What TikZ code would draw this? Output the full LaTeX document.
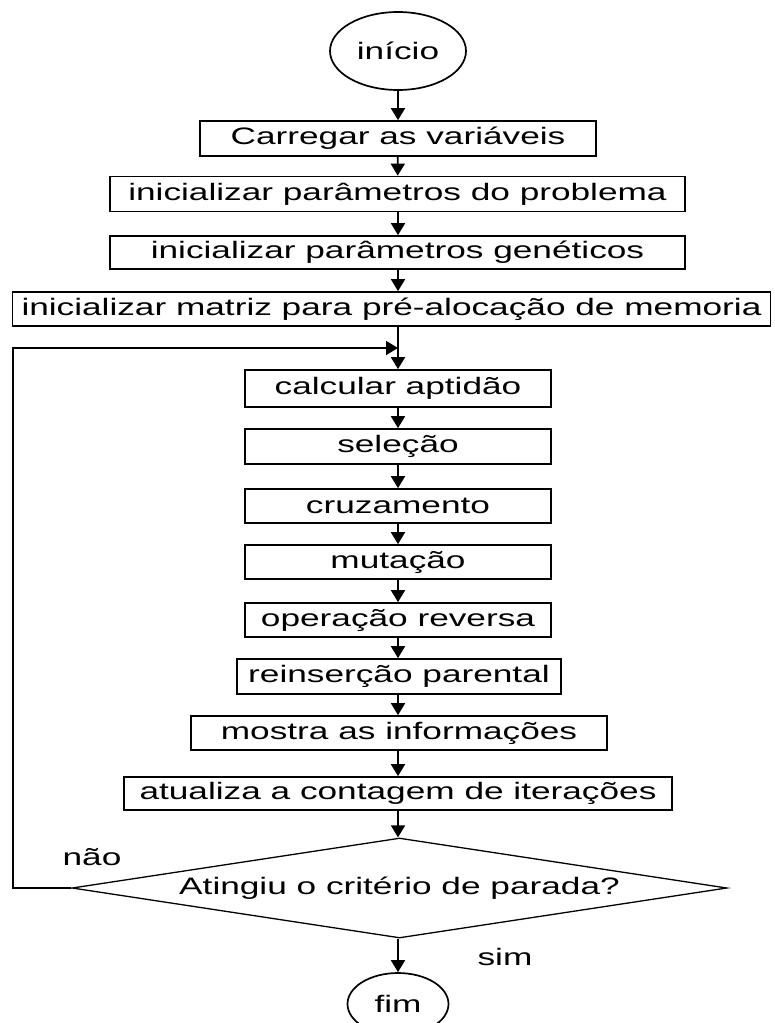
\documentclass[tikz,border=0pt]{standalone}
\usepackage{fontspec}
\setmainfont{Liberation Sans}[FakeStretch=1.48]
\usetikzlibrary{shapes.geometric,arrows.meta}
\tikzset{
  procbox/.style={draw, line width=1.7pt, inner sep=0pt, align=center, minimum height=35pt},
  term/.style={draw, ellipse, line width=1.7pt, inner sep=0pt},
  flow/.style={-{Triangle[length=12pt,width=14pt]}, line width=1.8pt}
}
\begin{document}
\begin{tikzpicture}[x=1pt,y=-1pt,font=\fontsize{23.8}{28}\selectfont]
\useasboundingbox (0,0) rectangle (774,1023);
\node[term, minimum width=136pt, minimum height=78pt] (inicio) at (398,51) {início};
\node[procbox, minimum width=396pt] (carregar) at (398,138.5) {Carregar as variáveis};
\node[procbox, minimum width=575pt] (parprob) at (397.5,194) {inicializar parâmetros do problema};
\node[procbox, minimum width=575pt, minimum height=33pt] (pargen) at (397.5,252.5) {inicializar parâmetros genéticos};
\node[procbox, minimum width=758pt, minimum height=34pt] (matriz) at (391.5,309) {inicializar matriz para pré-alocação de memoria};
\node[procbox, minimum width=306pt, minimum height=37pt] (aptidao) at (398,388.5) {calcular aptidão};
\node[procbox, minimum width=306pt] (selecao) at (398,446.5) {seleção};
\node[procbox, minimum width=306pt, minimum height=34pt] (cruza) at (398,506) {cruzamento};
\node[procbox, minimum width=306pt, minimum height=34pt] (mutacao) at (398,562) {mutação};
\node[procbox, minimum width=306pt, minimum height=34pt] (reversa) at (398,620) {operação reversa};
\node[procbox, minimum width=324pt] (reinsercao) at (399,676.5) {reinserção parental};
\node[procbox, minimum width=416pt, minimum height=34pt] (mostra) at (399,733) {mostra as informações};
\node[procbox, minimum width=548pt, minimum height=33pt] (atualiza) at (398,793.5) {atualiza a contagem de iterações};
\node[draw, diamond, line width=1.3pt, inner sep=0pt, aspect=6.55, minimum width=655pt, minimum height=100pt] (criterio) at (399.5,888) {\raisebox{-3pt}{Atingiu o critério de parada?}};
\node[term, minimum width=101pt, minimum height=62pt] (fim) at (398,1004) {fim};
\node (nao) at (92,857) {não};
\node (sim) at (505,957) {sim};
\coordinate (merge) at (398,348);
\coordinate (canto) at (13,888);
\draw[flow] (inicio) -- (carregar);
\draw[flow] (carregar) -- (parprob);
\draw[flow] (parprob.south -| carregar) -- (pargen.north -| carregar);
\draw[flow] (pargen.south -| carregar) -- (matriz.north -| carregar);
\draw[flow] (matriz.south -| merge) -- (aptidao);
\draw[flow] (aptidao) -- (selecao);
\draw[flow] (selecao) -- (cruza);
\draw[flow] (cruza) -- (mutacao);
\draw[flow] (mutacao) -- (reversa);
\draw[flow] (reversa.south) -- (reinsercao.north -| reversa);
\draw[flow] (reinsercao.south -| reversa) -- (mostra.north -| reversa);
\draw[flow] (mostra.south -| reversa) -- (atualiza);
\draw[flow] (atualiza) -- (criterio.north -| atualiza);
\draw[flow] (criterio.west) -- (canto) |- (merge);
\draw[flow] (criterio.south -| fim) -- (fim);
\end{tikzpicture}
\end{document}
